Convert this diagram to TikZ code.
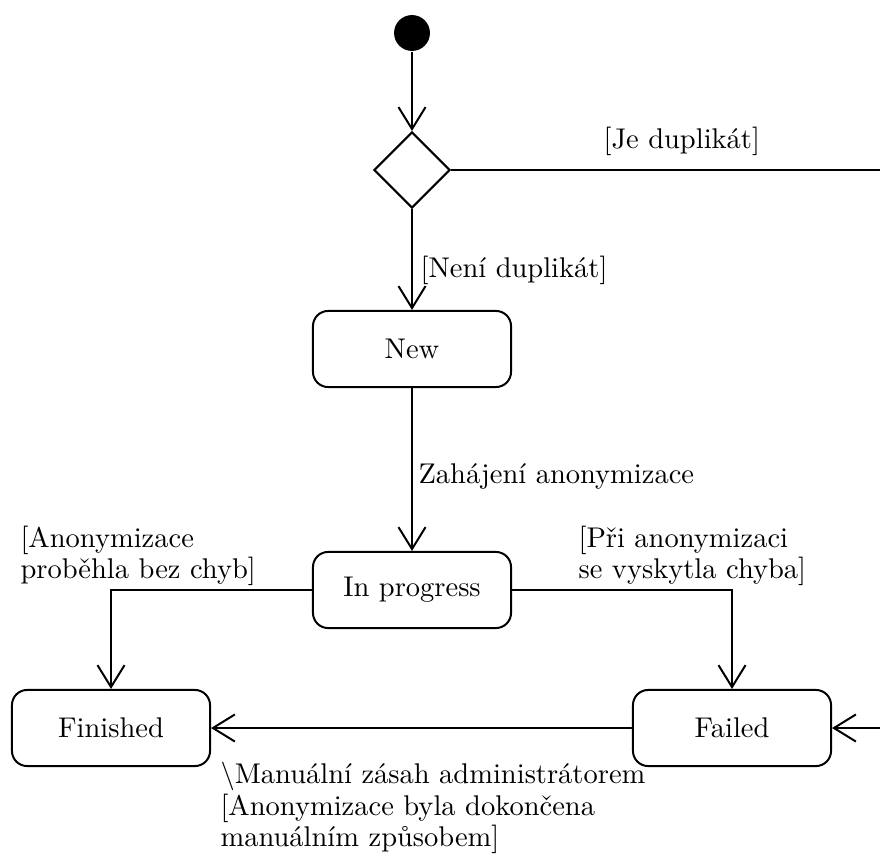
\documentclass[tikz,border=0pt]{standalone}
\usepackage{fontspec}
\usetikzlibrary{arrows.meta,shapes.geometric}
\begin{document}
\begin{tikzpicture}[x=0.3509pt,y=-0.3509pt,
  every node/.style={font=\fontsize{10}{9.65}\selectfont},
  edge/.style={line width=0.7pt},
  flow/.style={edge, -{Straight Barb[length=7.7pt,width=9.5pt]}},
  state/.style={draw, line width=0.7pt, rounded corners=5.3pt,
    minimum width=69.5pt, minimum height=26.7pt, inner sep=0pt},
  guard/.style={anchor=west, inner sep=0pt, align=left}]
\useasboundingbox[fill=white] (0,0) rectangle (880,858);

% initial state and duplicate check
\node[circle, fill=black, minimum size=12.6pt, inner sep=0pt] (init) at (412,33) {};
\node[diamond, draw, line width=0.7pt, minimum width=26.7pt, minimum height=26.7pt,
  inner sep=0pt] (dec) at (412,170) {};

% states
\node[state] (new)  at (412,349) {New};
\node[state] (prog) at (412,590) {In progress};
\node[state] (fin)  at (111,728) {Finished};
\node[state] (fail) at (732,728) {Failed};

% loose ends at the right border
\coordinate (dupEnd) at (880,170);
\coordinate (failIn) at (880,728);

% transitions
\draw[flow] (init) -- (dec.north);
\draw[edge] (dec.east) -- (dupEnd);
\draw[flow] (dec.south) -- (new.north);
\draw[flow] (new.south) -- (prog.north);
\draw[flow] (prog.west) -| (fin.north);
\draw[flow] (prog.east) -| (fail.north);
\draw[flow] (fail.west) -- (fin.east);
\draw[flow] (failIn) -- (fail.east);

% guards and triggers
\node[guard] (lDup)  at (603,141) {[Je duplikát]};
\node[guard] (lNot)  at (420,270) {[Není duplikát]};
\node[guard] (lStart) at (418,476) {Zahájení anonymizace};
\node[guard] (lOk)   at (20,556) {[Anonymizace\\proběhla bez chyb]};
\node[guard] (lErr)  at (578,556) {[Při anonymizaci\\se vyskytla chyba]};
\node[guard] (lMan)  at (220,808) {\textbackslash Manuální zásah administrátorem\\{}[Anonymizace byla dokončena\\manuálním způsobem]};
\end{tikzpicture}
\end{document}
